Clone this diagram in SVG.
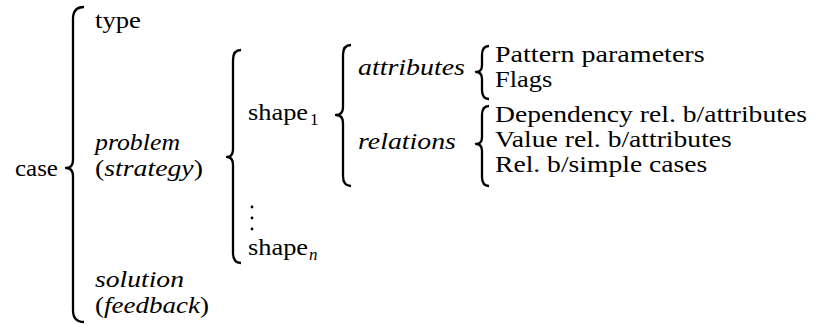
<svg xmlns="http://www.w3.org/2000/svg" width="816" height="324" viewBox="0 0 816 324">
<style>
  text { font-family: "Liberation Serif", serif; font-size: 24px; fill: #000; }
  .m { font-style: italic; }
  .sub { font-size: 17px; }
  .brace { fill: none; stroke: #000; stroke-width: 2.3; stroke-linejoin: round; stroke-linecap: butt; }
</style>
<rect width="816" height="324" fill="#fff"/>
<g id="connectors">
  <path class="brace" d="M84,7 Q73,7 73,19 L73,160 Q73,168 66,168 Q73,168 73,176 L73,310 Q73,322 84,322"/>
  <path class="brace" d="M241,50 Q233,50 233,60 L233,149 Q233,157 227,157 Q233,157 233,165 L233,253 Q233,263 241,263"/>
  <path class="brace" d="M351,45 Q343,45 343,55 L343,107 Q343,115 336,115 Q343,115 343,123 L343,176 Q343,186 351,186"/>
  <path class="brace" d="M489,46 Q482,46 482,55 L482,65 Q482,72 476,72 Q482,72 482,79 L482,90 Q482,99 489,99"/>
  <path class="brace" d="M489,106 Q482,106 482,115 L482,137 Q482,144 476,144 Q482,144 482,151 L482,177 Q482,186 489,186"/>
</g>
<g id="case"><text transform="translate(15,176) scale(1.04,1)">case</text></g>
<g id="type"><text transform="translate(95,28) scale(1.11,1)">type</text></g>
<g id="problem">
  <text class="m" transform="translate(95,150) scale(1.075,1)">problem</text>
  <text transform="translate(95,176) scale(1.157,1)">(<tspan class="m">strategy</tspan>)</text>
</g>
<g id="solution">
  <text class="m" transform="translate(95,287) scale(1.15,1)">solution</text>
  <text transform="translate(95,313) scale(1.125,1)">(<tspan class="m">feedback</tspan>)</text>
</g>
<g id="shape1">
  <text transform="translate(248,120) scale(1.1,1)">shape</text>
  <text class="sub" x="310" y="125">1</text>
</g>
<g id="vdots">
  <circle cx="252" cy="207" r="1.4"/>
  <circle cx="252" cy="218" r="1.4"/>
  <circle cx="252" cy="229" r="1.4"/>
</g>
<g id="shapen">
  <text transform="translate(248,255) scale(1.1,1)">shape</text>
  <text class="sub m" x="309" y="260">n</text>
</g>
<g id="attributes"><text class="m" transform="translate(358,75) scale(1.163,1)">attributes</text></g>
<g id="relations"><text class="m" transform="translate(358,149) scale(1.16,1)">relations</text></g>
<g id="pattern"><text transform="translate(495,62) scale(1.17,1)">Pattern parameters</text></g>
<g id="flags"><text transform="translate(495,87) scale(1.1,1)">Flags</text></g>
<g id="dependency"><text transform="translate(495,122) scale(1.15,1)">Dependency rel. b/attributes</text></g>
<g id="value"><text transform="translate(495,147) scale(1.15,1)">Value rel. b/attributes</text></g>
<g id="simple"><text transform="translate(495,172) scale(1.15,1)">Rel. b/simple cases</text></g>
</svg>
